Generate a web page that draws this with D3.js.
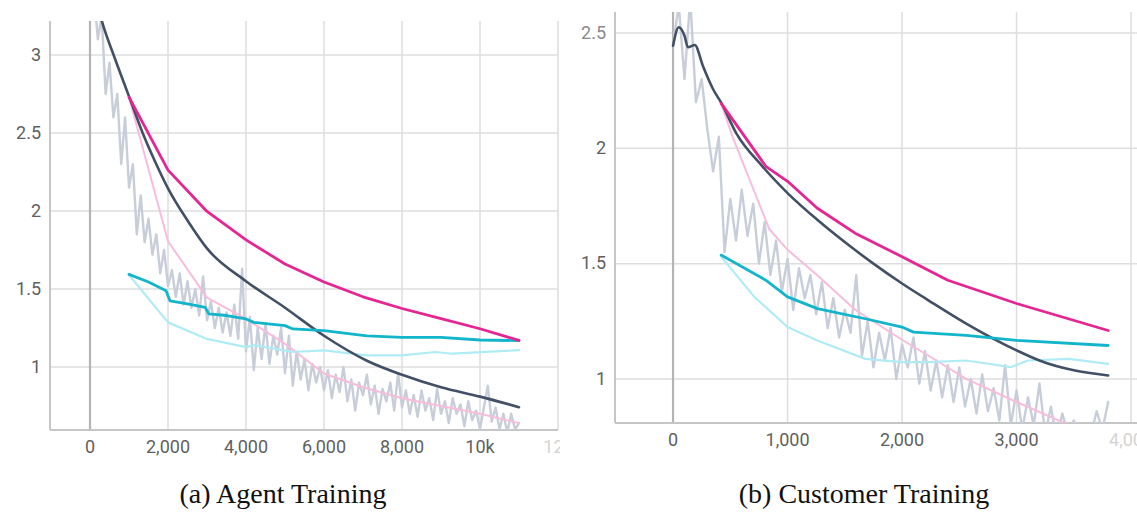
<!DOCTYPE html>
<html>
<head>
<meta charset="utf-8">
<script src="https://cdn.jsdelivr.net/npm/d3@7"></script>
<style>
  body { margin: 0; background: #fff; }
  svg { display: block; }
</style>
</head>
<body>
<svg id="chart"></svg>
<script>
// Two loss panels (TensorBoard style): raw train loss, smoothed train loss, eval losses

// ---- (a) Agent Training ----
const agentRawStep = 100;
const agentRawLoss = [
  3.6, 3.4, 3.1, 3.25, 2.75, 2.95, 2.6, 2.75, 2.3, 2.6,
  2.15, 2.3, 1.85, 2.1, 1.8, 1.95, 1.72, 1.85, 1.6, 1.75,
  1.52, 1.62, 1.45, 1.6, 1.4, 1.55, 1.38, 1.5, 1.33, 1.58,
  1.3, 1.42, 1.25, 1.38, 1.22, 1.35, 1.2, 1.4, 1.18, 1.63,
  1.1, 1.32, 0.98, 1.25, 1.05, 1.28, 1.02, 1.2, 1.08, 1.25,
  0.96, 1.2, 0.88, 1.1, 0.92, 1.05, 0.85, 1.02, 0.9, 1.0,
  0.85, 0.98, 0.8, 0.95, 0.84, 1.0, 0.78, 0.92, 0.72, 0.9,
  0.82, 0.95, 0.76, 0.88, 0.7, 0.86, 0.78, 0.9, 0.72, 0.96,
  0.74, 0.85, 0.7, 0.82, 0.68, 0.85, 0.72, 0.8, 0.66, 0.86,
  0.7, 0.78, 0.64, 0.8, 0.7, 0.76, 0.62, 0.78, 0.66, 0.72,
  0.6, 0.74, 0.88, 0.65, 0.74, 0.6, 0.7, 0.58, 0.7, 0.6,
  0.64
];
const agentTrainSteps = [0, 150, 300, 650, 1000, 1350, 1700, 2000, 2550, 3000, 4000, 5000, 6000, 7100, 8000, 9000, 10000, 11000];
const agentTrainLoss  = [3.5, 3.36, 3.22, 2.97, 2.735, 2.5, 2.3, 2.145, 1.92, 1.76, 1.55, 1.38, 1.2, 1.04, 0.95, 0.87, 0.81, 0.742];

const agentEvalASteps = [1000, 2000, 3000, 4000, 5000, 6000, 7000, 8000, 9000, 10000, 11000];
const agentEvalASmooth = [2.73, 2.262, 1.997, 1.815, 1.66, 1.545, 1.45, 1.375, 1.31, 1.245, 1.17];
const agentEvalARaw    = [2.73, 1.806, 1.445, 1.308, 1.148, 0.958, 0.87, 0.8, 0.75, 0.70, 0.64];

const agentEvalBSteps  = [1000, 1500, 1950, 2050, 2500, 2950, 3050, 3500, 4000, 4200, 5000, 5200, 6000, 7100, 8000, 9000, 10000, 11000];
const agentEvalBSmooth = [1.594, 1.545, 1.488, 1.424, 1.405, 1.382, 1.34, 1.33, 1.308, 1.286, 1.265, 1.244, 1.233, 1.2, 1.19, 1.19, 1.173, 1.169];
const agentEvalBRawSteps = [1000, 2000, 3000, 4000, 4200, 5200, 6000, 7100, 8000, 8850, 9300, 11000];
const agentEvalBRaw      = [1.59, 1.286, 1.18, 1.127, 1.14, 1.096, 1.106, 1.074, 1.074, 1.096, 1.085, 1.108];

const agentXTicks = [0, 2000, 4000, 6000, 8000, 10000, 12000];
const agentXLabels = ["0", "2,000", "4,000", "6,000", "8,000", "10k", "12k"];
const agentYTicks = [1, 1.5, 2, 2.5, 3];

// ---- (b) Customer Training ----
const customerRawStep = 50;
const customerRawLoss = [
  2.45, 2.62, 2.3, 2.65, 2.2, 2.3, 2.08, 1.9, 2.05, 1.55,
  1.78, 1.6, 1.82, 1.62, 1.76, 1.5, 1.68, 1.45, 1.6, 1.38,
  1.52, 1.3, 1.48, 1.35, 1.45, 1.28, 1.42, 1.22, 1.35, 1.18,
  1.3, 1.2, 1.45, 1.1, 1.25, 1.05, 1.2, 1.08, 1.22, 1.0,
  1.15, 1.05, 1.18, 0.98, 1.12, 0.95, 1.08, 0.92, 1.06, 0.9,
  1.05, 0.88, 1.0, 0.85, 1.02, 0.86, 0.96, 0.82, 1.06, 0.8,
  0.95, 0.78, 0.92, 0.8, 0.98, 0.76, 0.88, 0.74, 0.85, 0.76,
  0.82, 0.72, 0.8, 0.76, 0.86, 0.78, 0.9
];
const customerTrainSteps = [0, 50, 100, 130, 190, 260, 350, 420, 550, 780, 1000, 1260, 1590, 1750, 2000, 2230, 2560, 3000, 3200, 3800];
const customerTrainLoss  = [2.445, 2.525, 2.488, 2.438, 2.448, 2.358, 2.256, 2.198, 2.067, 1.922, 1.806, 1.69, 1.559, 1.5, 1.414, 1.341, 1.24, 1.124, 1.08, 1.015];

const customerEvalASteps  = [420, 810, 1000, 1260, 1590, 2000, 2400, 3000, 3800];
const customerEvalASmooth = [2.195, 1.922, 1.857, 1.74, 1.632, 1.53, 1.428, 1.327, 1.21];
const customerEvalARawSteps = [420, 520, 840, 1000, 1260, 1590, 2000, 2300, 2560, 3000, 3460, 3800];
const customerEvalARaw      = [2.195, 2.05, 1.65, 1.56, 1.45, 1.30, 1.17, 1.08, 1.0, 0.9, 0.8, 0.75];

const customerEvalBSteps  = [420, 810, 1000, 1260, 1680, 2000, 2100, 2560, 3000, 3800];
const customerEvalBSmooth = [1.537, 1.428, 1.356, 1.305, 1.261, 1.225, 1.203, 1.189, 1.167, 1.145];
const customerEvalBRawSteps = [420, 710, 1000, 1260, 1680, 2000, 2230, 2560, 2950, 3100, 3460, 3800];
const customerEvalBRaw      = [1.53, 1.356, 1.225, 1.167, 1.087, 1.073, 1.073, 1.08, 1.051, 1.08, 1.087, 1.065];

const customerXTicks = [0, 1000, 2000, 3000, 4000];
const customerXLabels = ["0", "1,000", "2,000", "3,000", "4,000"];
const customerYTicks = [1, 1.5, 2, 2.5];

const colors = {
  raw: "#c8cdda",
  train: "#425066",
  pink: "#e52592",
  pinkLight: "#f7bddc",
  cyan: "#12b5cb",
  cyanLight: "#b0ecf5"
};

const width = 1137, height = 517;
const svg = d3.select("#chart").attr("width", width).attr("height", height);

const zip = (xs, ys) => xs.map((x, i) => [x, ys[i]]);

function drawPanel(p) {
  const x = d3.scaleLinear().domain(p.xDomain).range([p.left, p.right]);
  const y = d3.scaleLinear().domain(p.yDomain).range([p.bottom, p.top]);

  const g = svg.append("g");
  const clipId = "clip-" + p.id;
  g.append("clipPath").attr("id", clipId)
    .append("rect")
    .attr("x", p.left).attr("y", p.top)
    .attr("width", p.right - p.left).attr("height", p.bottom - p.top);

  // gridlines
  g.selectAll(".hgrid").data(p.yTicks).enter().append("line")
    .attr("x1", p.left).attr("x2", p.right)
    .attr("y1", d => y(d)).attr("y2", d => y(d))
    .attr("stroke", "#dedede").attr("stroke-width", 1.5);
  g.selectAll(".vgrid").data(p.xTicks.filter(d => x(d) <= p.right)).enter().append("line")
    .attr("x1", d => x(d)).attr("x2", d => x(d))
    .attr("y1", p.top).attr("y2", p.bottom)
    .attr("stroke", d => d === 0 ? "#b4b4b4" : "#dedede")
    .attr("stroke-width", d => d === 0 ? 2.2 : 1.5);

  // axis lines
  g.append("line").attr("x1", p.left).attr("x2", p.left).attr("y1", p.top).attr("y2", p.bottom)
    .attr("stroke", "#c6c6c6").attr("stroke-width", 2);
  g.append("line").attr("x1", p.left).attr("x2", p.right).attr("y1", p.bottom).attr("y2", p.bottom)
    .attr("stroke", "#c6c6c6").attr("stroke-width", 2);

  // tick labels
  const labelClip = "lclip-" + p.id;
  g.append("clipPath").attr("id", labelClip)
    .append("rect").attr("x", p.left - 60).attr("y", 0)
    .attr("width", p.right - p.left + 62).attr("height", height);

  g.append("g").attr("clip-path", `url(#${labelClip})`)
    .selectAll("text").data(p.xTicks).enter().append("text")
    .attr("x", d => x(d)).attr("y", p.bottom + 18)
    .attr("text-anchor", "middle").attr("dominant-baseline", "middle")
    .attr("font-family", "Roboto, sans-serif").attr("font-size", 18)
    .attr("fill", d => x(d) > p.right - 15 ? "#d4d4d4" : "#5f5f5f")
    .text((d, i) => p.xLabels[i]);

  g.selectAll(".ylab").data(p.yTicks).enter().append("text")
    .attr("x", p.left - 9).attr("y", d => y(d) + 1)
    .attr("text-anchor", "end").attr("dominant-baseline", "middle")
    .attr("font-family", "Roboto, sans-serif").attr("font-size", 18)
    .attr("fill", d => y(d) - p.top < 25 ? "#8a8a8a" : "#5f5f5f")
    .text(d => d);

  // series
  const line = d3.line().x(d => x(d[0])).y(d => y(d[1]));
  const smooth = d3.line().x(d => x(d[0])).y(d => y(d[1])).curve(d3.curveMonotoneX);
  const plot = g.append("g").attr("clip-path", `url(#${clipId})`);

  const series = [
    { pts: p.raw, color: colors.raw, w: 2.4, gen: line },
    { pts: p.evalARaw, color: colors.pinkLight, w: 2, gen: line },
    { pts: p.evalBRaw, color: colors.cyanLight, w: 2.2, gen: line },
    { pts: p.train, color: colors.train, w: 2.6, gen: smooth },
    { pts: p.evalB, color: colors.cyan, w: 2.8, gen: line },
    { pts: p.evalA, color: colors.pink, w: 2.8, gen: line }
  ];
  plot.selectAll("path").data(series).enter().append("path")
    .attr("d", d => d.gen(d.pts))
    .attr("fill", "none")
    .attr("stroke", d => d.color)
    .attr("stroke-width", d => d.w)
    .attr("stroke-linejoin", "round")
    .attr("stroke-linecap", "round");

  // caption
  svg.append("text")
    .attr("x", p.captionX).attr("y", 503)
    .attr("text-anchor", "middle")
    .attr("font-family", "'Liberation Serif', 'DejaVu Serif', serif")
    .attr("font-size", 28)
    .attr("fill", "#111")
    .text(p.caption);
}

drawPanel({
  id: "a",
  left: 50, right: 558, top: 21, bottom: 430,
  xDomain: [-1026, 12000], yDomain: [0.596, 3.218],
  xTicks: agentXTicks, xLabels: agentXLabels, yTicks: agentYTicks,
  raw: agentRawLoss.map((v, i) => [i * agentRawStep, v]),
  train: zip(agentTrainSteps, agentTrainLoss),
  evalA: zip(agentEvalASteps, agentEvalASmooth),
  evalARaw: zip(agentEvalASteps, agentEvalARaw),
  evalB: zip(agentEvalBSteps, agentEvalBSmooth),
  evalBRaw: zip(agentEvalBRawSteps, agentEvalBRaw),
  caption: "(a) Agent Training", captionX: 283
});

drawPanel({
  id: "b",
  left: 615, right: 1137, top: 12, bottom: 423,
  xDomain: [-507, 4052], yDomain: [0.809, 2.591],
  xTicks: customerXTicks, xLabels: customerXLabels, yTicks: customerYTicks,
  raw: customerRawLoss.map((v, i) => [i * customerRawStep, v]),
  train: zip(customerTrainSteps, customerTrainLoss),
  evalA: zip(customerEvalASteps, customerEvalASmooth),
  evalARaw: zip(customerEvalARawSteps, customerEvalARaw),
  evalB: zip(customerEvalBSteps, customerEvalBSmooth),
  evalBRaw: zip(customerEvalBRawSteps, customerEvalBRaw),
  caption: "(b) Customer Training", captionX: 864
});
</script>
</body>
</html>
